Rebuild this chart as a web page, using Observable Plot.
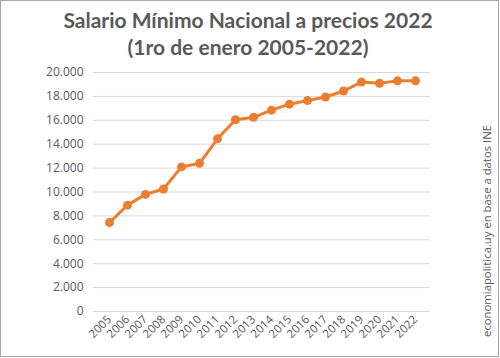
<!DOCTYPE html>
<html>
<head>
<meta charset="utf-8">
<script src="https://cdn.jsdelivr.net/npm/d3@7"></script>
<script src="https://cdn.jsdelivr.net/npm/@observablehq/plot@0.6"></script>
<style>
  html, body { margin: 0; padding: 0; background: #fff; }
  #wrap { position: relative; width: 500px; height: 358px; overflow: hidden; }
  #frame { position: absolute; left: 0; top: 0; width: 497px; height: 355px; border: 1px solid #a6a6a6; box-sizing: content-box; pointer-events: none; }
  #title { position: absolute; left: 0; top: 6px; width: 496px; text-align: center;
    font-family: Lato, "Open Sans", sans-serif; font-weight: bold; font-size: 21px; line-height: 27px; color: #595959; }
  #caption { position: absolute; left: 486px; top: 231px; transform: translate(-50%, -50%) rotate(-90deg);
    white-space: nowrap; font-family: "Open Sans", sans-serif; font-size: 11.3px; color: #595959; }
  #chart { position: absolute; left: 0; top: 0; }
</style>
</head>
<body>
<div id="wrap">
  <div id="chart"></div>
  <div id="title">Salario Mínimo Nacional a precios 2022<br>(1ro de enero 2005-2022)</div>
  <div id="caption">economiapolitica.uy en base a datos INE</div>
  <div id="frame"></div>
</div>
<script>
const years = ["2005","2006","2007","2008","2009","2010","2011","2012","2013","2014","2015","2016","2017","2018","2019","2020","2021","2022"];
const salario = [7450, 8900, 9800, 10250, 12100, 12400, 14450, 16050, 16250, 16850, 17350, 17650, 17950, 18450, 19200, 19100, 19300, 19300];
const yTicks = [0, 2000, 4000, 6000, 8000, 10000, 12000, 14000, 16000, 18000, 20000];

const data = years.map((y, i) => ({year: y, value: salario[i]}));
const fmt = d3.formatLocale({decimal: ",", thousands: ".", grouping: [3], currency: ["$", ""]}).format(",d");

const chart = Plot.plot({
  width: 500,
  height: 358,
  marginTop: 72,
  marginBottom: 47,
  marginLeft: 93,
  marginRight: 70,
  style: {fontFamily: "'Open Sans', sans-serif", fontSize: "12px", color: "#595959", background: "transparent"},
  x: {type: "point", domain: years, padding: 0.5, label: null},
  y: {domain: [0, 20000], label: null},
  marks: [
    Plot.ruleY(yTicks, {stroke: "#d9d9d9", strokeWidth: 1}),
    Plot.axisY({ticks: yTicks, tickFormat: fmt, tickSize: 0, tickPadding: 10, label: null, fontSize: 12}),
    Plot.axisX({tickSize: 0, tickRotate: -45, tickPadding: 6, label: null, fontSize: 11.5}),
    Plot.line(data, {x: "year", y: "value", stroke: "#ed7d31", strokeWidth: 3}),
    Plot.dot(data, {x: "year", y: "value", fill: "#ed7d31", r: 4.5})
  ]
});
document.getElementById("chart").appendChild(chart);
</script>
</body>
</html>
